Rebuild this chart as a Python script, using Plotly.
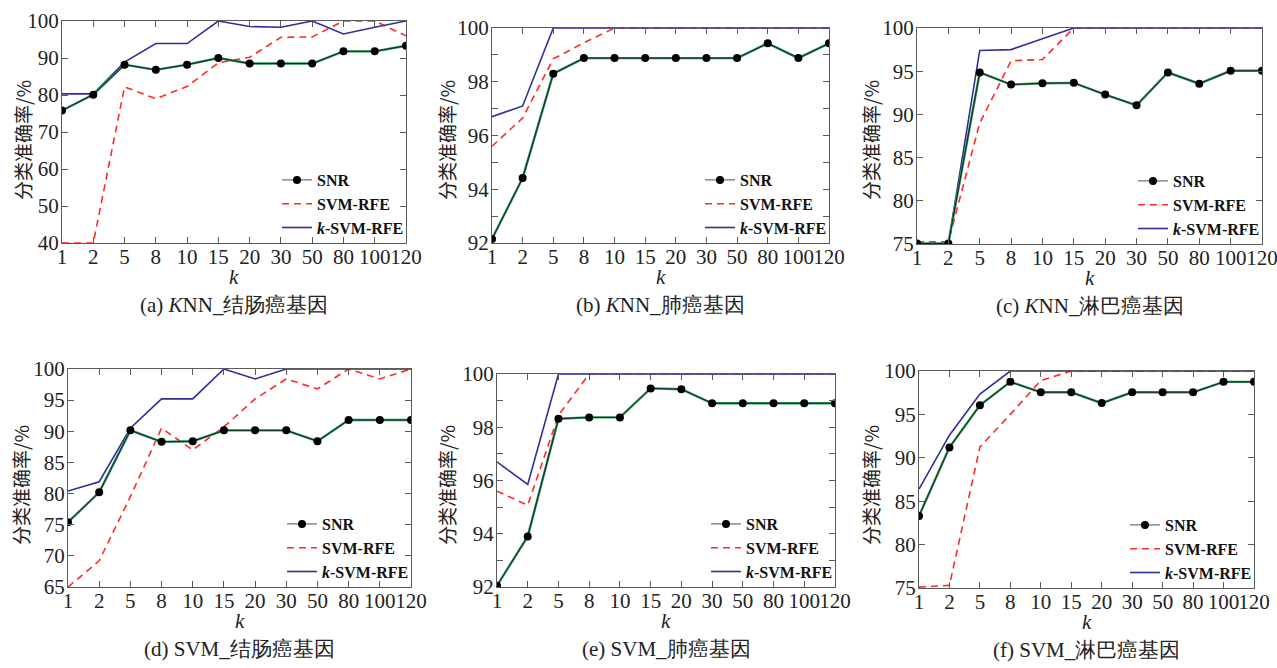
import plotly.graph_objects as go

W, H = 1277, 668

k_labels = ["1", "2", "5", "8", "10", "15", "20", "30", "50", "80", "100", "120"]

# (a) KNN colon
a_snr = [75.8, 80.1, 88.2, 86.8, 88.2, 90.0, 88.5, 88.5, 88.5, 91.8, 91.8, 93.3]
a_rfe = [40.0, 40.0, 82.2, 79.0, 82.3, 88.7, 90.2, 95.6, 95.7, 100.0, 100.0, 96.0]
a_ksvm = [80.3, 80.3, 88.9, 93.9, 93.9, 100.0, 98.5, 98.3, 100.0, 96.5, 98.3, 100.0]
# (b) KNN lung
b_snr = [92.15, 94.42, 98.3, 98.88, 98.88, 98.88, 98.88, 98.88, 98.88, 99.43, 98.88, 99.43]
b_rfe = [95.6, 96.65, 98.85, 99.45, 100.0, 100.0, 100.0, 100.0, 100.0, 100.0, 100.0, 100.0]
b_ksvm = [96.7, 97.1, 100.0, 100.0, 100.0, 100.0, 100.0, 100.0, 100.0, 100.0, 100.0, 100.0]
# (c) KNN lymphoma
c_snr = [75.05, 75.05, 94.85, 93.45, 93.6, 93.65, 92.3, 91.05, 94.85, 93.55, 95.05, 95.05]
c_rfe = [75.25, 75.25, 89.0, 96.2, 96.35, 100.0, 100.0, 100.0, 100.0, 100.0, 100.0, 100.0]
c_ksvm = [75.05, 75.05, 97.4, 97.5, 98.75, 100.0, 100.0, 100.0, 100.0, 100.0, 100.0, 100.0]
# (d) SVM colon
d_snr = [75.4, 80.2, 90.15, 88.3, 88.4, 90.15, 90.15, 90.15, 88.4, 91.8, 91.8, 91.8]
d_rfe = [65.0, 69.2, 79.5, 90.5, 87.0, 90.7, 95.2, 98.4, 96.8, 100.0, 98.4, 100.0]
d_ksvm = [80.4, 81.9, 90.5, 95.2, 95.2, 100.0, 98.4, 100.0, 100.0, 100.0, 100.0, 100.0]
# (e) SVM lung
e_snr = [92.05, 93.9, 98.32, 98.37, 98.37, 99.46, 99.43, 98.9, 98.9, 98.9, 98.9, 98.9]
e_rfe = [95.6, 95.07, 98.45, 100.0, 100.0, 100.0, 100.0, 100.0, 100.0, 100.0, 100.0, 100.0]
e_ksvm = [96.7, 95.85, 100.0, 100.0, 100.0, 100.0, 100.0, 100.0, 100.0, 100.0, 100.0, 100.0]
# (f) SVM lymphoma
f_snr = [83.3, 91.2, 96.05, 98.75, 97.55, 97.55, 96.3, 97.55, 97.55, 97.55, 98.75, 98.75]
f_rfe = [75.1, 75.3, 91.25, 95.0, 98.9, 100.0, 100.0, 100.0, 100.0, 100.0, 100.0, 100.0]
f_ksvm = [86.4, 92.6, 97.35, 100.0, 100.0, 100.0, 100.0, 100.0, 100.0, 100.0, 100.0, 100.0]

captions = ["(a) <i>K</i>NN_结肠癌基因", "(b) <i>K</i>NN_肺癌基因", "(c) <i>K</i>NN_淋巴癌基因",
            "(d) SVM_结肠癌基因", "(e) SVM_肺癌基因", "(f) SVM_淋巴癌基因"]
y_ranges = [(40, 100), (92, 100), (75, 100), (65, 100), (92, 100), (75, 100)]
y_dticks = [10, 2, 5, 5, 2, 5]
y_minor = [None, 1, None, None, 1, None]

panels = [
    (a_snr, a_rfe, a_ksvm), (b_snr, b_rfe, b_ksvm), (c_snr, c_rfe, c_ksvm),
    (d_snr, d_rfe, d_ksvm), (e_snr, e_rfe, e_ksvm), (f_snr, f_rfe, f_ksvm),
]

# plot-area pixel boxes: left, right, top, bottom
boxes = [(62, 406, 21, 243), (492, 829, 28, 243), (917, 1262, 28, 244),
         (68, 411, 369, 587), (497, 835, 374, 587), (919, 1254, 371, 588)]
ytitle_x = [22, 446, 870, 20, 446, 870]
ytitle_y = [140, 140, 140, 485, 485, 485]

SERIF = "Liberation Serif"
CJK = "Noto Sans CJK SC"
FRAME = "#5a5a5a"
RED = "#ff2a2a"
BLUE = "#2f2f9c"
GREEN = "#2f8f5a"

x_idx = list(range(len(k_labels)))

fig = go.Figure()
layout = dict(
    width=W, height=H, margin=dict(l=0, r=0, t=0, b=0, autoexpand=False),
    paper_bgcolor="white", plot_bgcolor="white", showlegend=True,
)
annotations = []

for i, ((snr, rfe, ksvm), box) in enumerate(zip(panels, boxes)):
    n = "" if i == 0 else str(i + 1)
    xa, ya = "x" + n, "y" + n
    lg = "legend" + n
    L, R, T, B = box
    fig.add_trace(go.Scatter(x=x_idx, y=rfe, mode="lines", xaxis=xa, yaxis=ya,
                             line=dict(color=RED, width=1.6, dash="7px,5px"),
                             name="<b>SVM-RFE</b>", legend=lg, legendrank=2))
    fig.add_trace(go.Scatter(x=x_idx, y=ksvm, mode="lines", xaxis=xa, yaxis=ya,
                             line=dict(color=BLUE, width=1.6),
                             name="<b><i>k</i>-SVM-RFE</b>", legend=lg, legendrank=3))
    fig.add_trace(go.Scatter(x=x_idx, y=snr, mode="lines", xaxis=xa, yaxis=ya,
                             line=dict(color=GREEN, width=2.4), showlegend=False,
                             hoverinfo="skip", legend=lg))
    fig.add_trace(go.Scatter(x=x_idx, y=snr, mode="lines+markers", xaxis=xa, yaxis=ya,
                             line=dict(color="black", width=0.7),
                             marker=dict(color="black", size=8, symbol="circle"),
                             name="<b>SNR</b>", legend=lg, legendrank=1))

    axis_common = dict(showline=True, mirror="ticks", linecolor=FRAME, linewidth=1,
                       ticks="inside", ticklen=6, tickcolor=FRAME, tickwidth=1,
                       showgrid=False, zeroline=False, automargin=False,
                       ticklabeloverflow="allow",
                       tickfont=dict(family=SERIF, size=21, color="#222"))
    layout["xaxis" + n] = dict(axis_common, domain=[L / W, R / W], anchor=ya,
                               range=[0, len(k_labels) - 1], tickmode="array",
                               tickvals=x_idx, ticktext=k_labels, tickangle=0,
                               ticklabelstandoff=-5)
    yd = dict(axis_common, domain=[1 - B / H, 1 - T / H], anchor=xa,
              range=list(y_ranges[i]), tick0=y_ranges[i][0], dtick=y_dticks[i],
              tickangle=0, ticklabelstandoff=-2)
    if y_minor[i]:
        yd["minor"] = dict(dtick=y_minor[i], tick0=y_ranges[i][0], ticks="inside",
                           ticklen=6, tickcolor=FRAME, tickwidth=1, showgrid=False)
    layout["yaxis" + n] = yd

    layout[lg] = dict(x=(R + 3) / W, xanchor="right", y=1 - (B + 2) / H, yanchor="bottom",
                      bgcolor="rgba(0,0,0,0)", borderwidth=0, itemwidth=30,
                      tracegroupgap=0, traceorder="normal",
                      font=dict(family=SERIF, size=16, color="#111"))

    cx = (L + R) / 2
    common_ann = dict(xref="paper", yref="paper", showarrow=False,
                      xanchor="center", yanchor="middle")
    annotations.append(dict(common_ann, text="<i>k</i>", x=cx / W, y=1 - (B + 34) / H,
                            font=dict(family=SERIF, size=21, color="#222")))
    annotations.append(dict(common_ann, text=captions[i], x=cx / W, y=1 - (B + 62) / H,
                            font=dict(family=SERIF, size=21, color="#222")))
    annotations.append(dict(common_ann, text="分类准确率/%", x=ytitle_x[i] / W, y=1 - ytitle_y[i] / H,
                            textangle=-90, font=dict(family=CJK, size=19, color="#222")))

layout["annotations"] = annotations
fig.update_layout(**layout)
fig.write_html("out.html", config={"displayModeBar": False},
               post_script="document.body.style.margin='0';")
